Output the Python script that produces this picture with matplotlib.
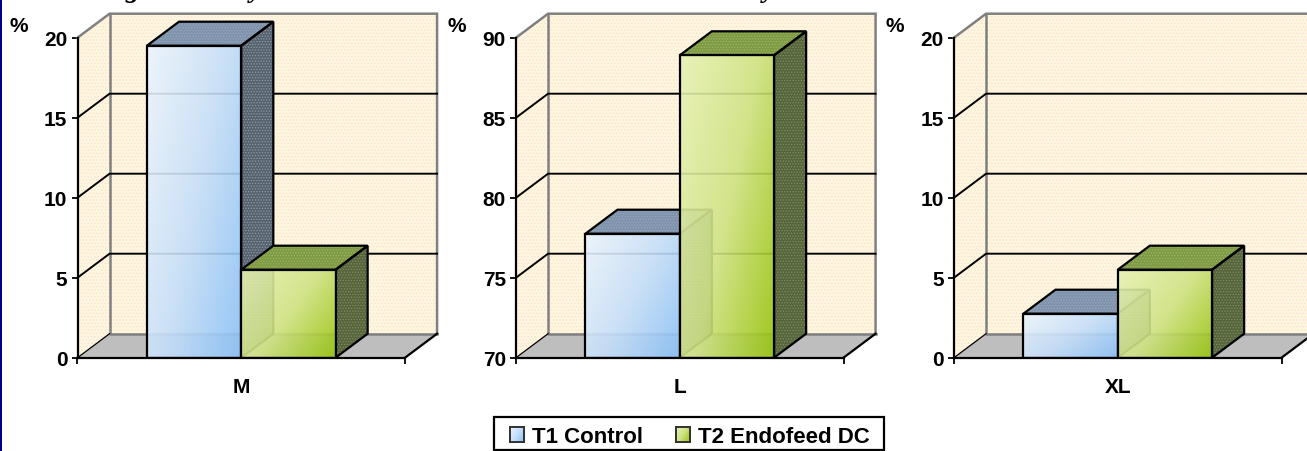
import matplotlib
matplotlib.use("Agg")
import matplotlib.pyplot as plt
import numpy as np
from matplotlib.colors import LinearSegmentedColormap
from matplotlib.patches import Patch, Polygon, Rectangle

plt.rcParams['font.family'] = ['Liberation Sans']
plt.rcParams['font.weight'] = 'bold'
plt.rcParams['hatch.linewidth'] = 0.6

categories = ['M', 'L', 'XL']
series = ['T1 Control', 'T2 Endofeed DC']
t1_values = [19.5, 77.75, 2.75]
t2_values = [5.5, 88.9, 5.5]
y_limits = [(0, 20), (70, 90), (0, 20)]
y_ticks = [[0, 5, 10, 15, 20], [70, 75, 80, 85, 90], [0, 5, 10, 15, 20]]
axis_left_px = [77.5, 516, 954]
percent_px = [19, 457, 895]

W, H = 1307, 452
AX_W, AX_TOP, AX_BOTTOM = 327.5, 38.7, 358.7
HALF = 1.736
DEPTH_X = 0.34
DEPTH_FRAC = 0.075
FS = 15

blue_cm = LinearSegmentedColormap.from_list('b', ['#EBF4FE', '#C6DFFA', '#8AC1F8'])
green_cm = LinearSegmentedColormap.from_list('g', ['#E6F2B4', '#CFE384', '#95C30A'])
styles = [
    dict(cmap=blue_cm, top='#7F93AC', top_h='#98A8BC', side='#56626E', side_h='#8E9AA6'),
    dict(cmap=green_cm, top='#7E9A42', top_h='#9DB56A', side='#55643A', side_h='#7F8E63'),
]
diag = np.add.outer(np.linspace(0, 0.4, 60), np.linspace(0, 0.6, 60))

fig = plt.figure(figsize=(W / 100, H / 100), dpi=100, facecolor='white')
fig.add_artist(Rectangle((0, 0), 2 / W, 1, transform=fig.transFigure, color='#00008B', lw=0))


def face(ax, pts, fc, hc, z):
    ax.add_patch(Polygon(pts, closed=True, facecolor=fc, edgecolor=hc, hatch='......', lw=0, clip_on=False, zorder=z))
    ax.add_patch(Polygon(pts, closed=True, fill=False, edgecolor='black', lw=1.6, clip_on=False, zorder=z + 0.1))


for i, cat in enumerate(categories):
    ax = fig.add_axes([axis_left_px[i] / W, (H - AX_BOTTOM) / H, AX_W / W, (AX_BOTTOM - AX_TOP) / H])
    ax.patch.set_visible(False)
    y0, y1 = y_limits[i]
    dy = (y1 - y0) * DEPTH_FRAC
    l, r = -HALF, HALF
    dx = DEPTH_X

    # walls
    wall = dict(facecolor='#FFF7DC', edgecolor='#FBDFDC', hatch='.....', lw=0, clip_on=False, zorder=1)
    ax.add_patch(Polygon([(l + dx, y0 + dy), (r + dx, y0 + dy), (r + dx, y1 + dy), (l + dx, y1 + dy)], **wall))
    ax.add_patch(Polygon([(l, y0), (l + dx, y0 + dy), (l + dx, y1 + dy), (l, y1)], **wall))
    ax.add_patch(Polygon([(l, y0), (r, y0), (r + dx, y0 + dy), (l + dx, y0 + dy)], facecolor='#BEBEBE', lw=0, clip_on=False, zorder=1.5))
    ax.plot([l, l + dx, r + dx, r + dx], [y1, y1 + dy, y1 + dy, y0 + dy], color='#808080', lw=1.8, clip_on=False, zorder=2, solid_joinstyle='miter')
    ax.plot([l + dx, l + dx, r + dx], [y1 + dy, y0 + dy, y0 + dy], color='#808080', lw=1.8, clip_on=False, zorder=2)

    # gridlines run along the side wall and the back wall
    for t in y_ticks[i][1:-1]:
        ax.plot([l, l + dx, r + dx], [t, t + dy, t + dy], color='black', lw=1.4, clip_on=False, zorder=2.5)
    ax.plot([l, l + dx], [y0, y0 + dy], color='black', lw=0.9, clip_on=False, zorder=2.5)
    ax.plot([r, r + dx], [y0, y0 + dy], color='black', lw=1.6, clip_on=False, zorder=2.5)

    # bars
    for j, val in enumerate([t1_values[i], t2_values[i]]):
        st = styles[j]
        a, b = j - 1, j
        z = 3 + j
        face(ax, [(a, val), (b, val), (b + dx, val + dy), (a + dx, val + dy)], st['top'], st['top_h'], z)
        face(ax, [(b, y0), (b + dx, y0 + dy), (b + dx, val + dy), (b, val)], st['side'], st['side_h'], z)
        ax.imshow(diag, cmap=st['cmap'], extent=(a, b, y0, val), origin='upper', aspect='auto',
                  vmin=0, vmax=1, alpha=0.9, zorder=z + 0.3, interpolation='bilinear')
        ax.bar(a + 0.5, val - y0, width=1, bottom=y0, facecolor='none', edgecolor='black', lw=1.6, zorder=z + 0.4)

    ax.set_xlim(l, r)
    ax.set_ylim(y0, y1)
    ax.set_yticks(y_ticks[i])
    ax.set_xticks([0], [cat])
    ax.set_xticks([l, r], minor=True)
    ax.tick_params(axis='x', which='major', length=0, pad=14, labelsize=FS)
    ax.tick_params(axis='x', which='minor', length=4.3, width=1.3)
    ax.tick_params(axis='y', length=4.3, width=1.3, pad=3, labelsize=FS)
    ax.spines[['top', 'right']].set_visible(False)
    ax.spines[['left', 'bottom']].set_linewidth(1.6)
    ax.spines[['left', 'bottom']].set_zorder(6)
    fig.text(percent_px[i] / W, 1 - 26 / H, '%', ha='center', va='center', fontsize=FS)

# what is left of the title, cropped by the top of the picture
for x, ch in [(132, 'g'), (256, 'y'), (769, 'y')]:
    fig.text(x / W, 1 + 3 / H, ch, ha='center', va='baseline', fontsize=20,
             family='Liberation Serif', style='italic', weight='bold')

# legend frame is wider than matplotlib's padding allows, so it is drawn apart
fig.add_artist(Rectangle((494 / W, 1 / H), 390 / W, 33 / H, transform=fig.transFigure, facecolor='white', edgecolor='black', lw=1.6))
handles = [Patch(facecolor='none', edgecolor='#333333', lw=1.4), Patch(facecolor='none', edgecolor='#333333', lw=1.4)]
leg = fig.legend(handles, series, loc='center', bbox_to_anchor=(690 / W, 1 - 438 / H), ncol=2, frameon=False,
                 fontsize=16, handlelength=0.62, handleheight=0.62, handletextpad=0.35, columnspacing=1.5, borderpad=0.2)

# gradient fill for the legend keys
fig.canvas.draw()
inv = fig.transFigure.inverted()
for patch, st in zip(leg.get_patches(), styles):
    box = patch.get_window_extent().transformed(inv)
    key = fig.add_axes([box.x0, box.y0, box.width, box.height], zorder=9)
    key.imshow(diag, cmap=st['cmap'], aspect='auto', vmin=0, vmax=1)
    key.set_xticks([])
    key.set_yticks([])
    for sp in key.spines.values():
        sp.set_linewidth(1.4)
        sp.set_color('#333333')

fig.savefig('out.png', dpi=100)
